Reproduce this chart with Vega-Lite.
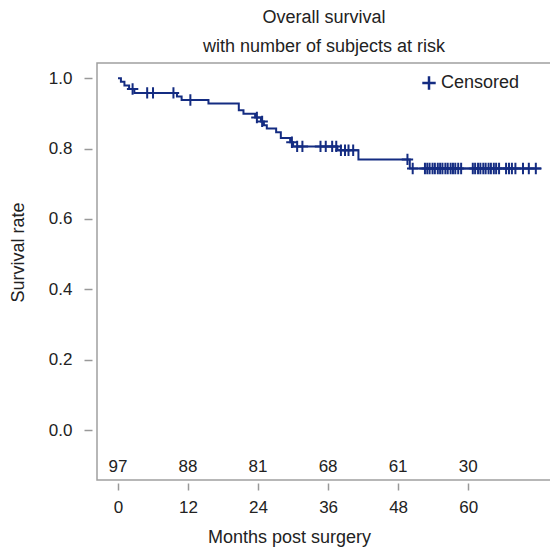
{
  "$schema": "https://vega.github.io/schema/vega-lite/v6.json",
  "autosize": {"type": "none"},
  "width": 454,
  "height": 417,
  "padding": {"left": 97, "top": 63, "right": 0, "bottom": 68},
  "background": "white",
  "title": {
    "text": ["Overall survival", "with number of subjects at risk"],
    "fontSize": 18,
    "fontWeight": "normal",
    "font": "Liberation Sans",
    "color": "#222",
    "lineHeight": 29,
    "anchor": "middle",
    "offset": 7
  },
  "config": {
    "font": "Liberation Sans",
    "view": {"stroke": "#a0a0a0", "strokeWidth": 1.5},
    "axis": {"grid": false, "domain": false, "tickColor": "#999", "tickWidth": 1.5, "labelColor": "#222", "titleColor": "#222", "labelFontSize": 17, "titleFontSize": 18, "titleFontWeight": "normal"}
  },
  "datasets": {
    "curve": [
      {"t": 0, "s": 1.0},
      {"t": 0.5, "s": 0.99},
      {"t": 1.1, "s": 0.979},
      {"t": 1.9, "s": 0.969},
      {"t": 2.8, "s": 0.958},
      {"t": 10.1, "s": 0.948},
      {"t": 10.9, "s": 0.938},
      {"t": 15.5, "s": 0.928},
      {"t": 20.7, "s": 0.909},
      {"t": 21.5, "s": 0.899},
      {"t": 23.5, "s": 0.888},
      {"t": 24.5, "s": 0.877},
      {"t": 25.0, "s": 0.866},
      {"t": 25.5, "s": 0.857},
      {"t": 27.1, "s": 0.846},
      {"t": 27.9, "s": 0.83},
      {"t": 29.5, "s": 0.818},
      {"t": 30.0, "s": 0.806},
      {"t": 37.6, "s": 0.795},
      {"t": 41.2, "s": 0.769},
      {"t": 50.0, "s": 0.743},
      {"t": 72.5, "s": 0.743}
    ],
    "censor": [
      {"t": 2.5, "s": 0.969, "type": "Censored"},
      {"t": 5.0, "s": 0.958, "type": "Censored"},
      {"t": 6.0, "s": 0.958, "type": "Censored"},
      {"t": 9.5, "s": 0.958, "type": "Censored"},
      {"t": 12.4, "s": 0.938, "type": "Censored"},
      {"t": 23.8, "s": 0.888, "type": "Censored"},
      {"t": 24.7, "s": 0.877, "type": "Censored"},
      {"t": 29.8, "s": 0.818, "type": "Censored"},
      {"t": 30.7, "s": 0.806, "type": "Censored"},
      {"t": 31.6, "s": 0.806, "type": "Censored"},
      {"t": 34.7, "s": 0.806, "type": "Censored"},
      {"t": 35.6, "s": 0.806, "type": "Censored"},
      {"t": 36.7, "s": 0.806, "type": "Censored"},
      {"t": 37.4, "s": 0.806, "type": "Censored"},
      {"t": 38.2, "s": 0.795, "type": "Censored"},
      {"t": 38.9, "s": 0.795, "type": "Censored"},
      {"t": 39.5, "s": 0.795, "type": "Censored"},
      {"t": 40.3, "s": 0.795, "type": "Censored"},
      {"t": 49.6, "s": 0.769, "type": "Censored"},
      {"t": 50.5, "s": 0.743, "type": "Censored"},
      {"t": 52.6, "s": 0.743, "type": "Censored"},
      {"t": 53.0, "s": 0.743, "type": "Censored"},
      {"t": 53.4, "s": 0.743, "type": "Censored"},
      {"t": 53.9, "s": 0.743, "type": "Censored"},
      {"t": 54.3, "s": 0.743, "type": "Censored"},
      {"t": 54.8, "s": 0.743, "type": "Censored"},
      {"t": 55.2, "s": 0.743, "type": "Censored"},
      {"t": 55.6, "s": 0.743, "type": "Censored"},
      {"t": 56.1, "s": 0.743, "type": "Censored"},
      {"t": 56.5, "s": 0.743, "type": "Censored"},
      {"t": 57.0, "s": 0.743, "type": "Censored"},
      {"t": 57.4, "s": 0.743, "type": "Censored"},
      {"t": 57.8, "s": 0.743, "type": "Censored"},
      {"t": 58.3, "s": 0.743, "type": "Censored"},
      {"t": 58.8, "s": 0.743, "type": "Censored"},
      {"t": 60.8, "s": 0.743, "type": "Censored"},
      {"t": 61.2, "s": 0.743, "type": "Censored"},
      {"t": 61.7, "s": 0.743, "type": "Censored"},
      {"t": 62.1, "s": 0.743, "type": "Censored"},
      {"t": 62.6, "s": 0.743, "type": "Censored"},
      {"t": 63.0, "s": 0.743, "type": "Censored"},
      {"t": 63.5, "s": 0.743, "type": "Censored"},
      {"t": 63.9, "s": 0.743, "type": "Censored"},
      {"t": 64.4, "s": 0.743, "type": "Censored"},
      {"t": 64.8, "s": 0.743, "type": "Censored"},
      {"t": 65.3, "s": 0.743, "type": "Censored"},
      {"t": 66.5, "s": 0.743, "type": "Censored"},
      {"t": 67.0, "s": 0.743, "type": "Censored"},
      {"t": 67.5, "s": 0.743, "type": "Censored"},
      {"t": 68.1, "s": 0.743, "type": "Censored"},
      {"t": 69.4, "s": 0.743, "type": "Censored"},
      {"t": 70.4, "s": 0.743, "type": "Censored"},
      {"t": 71.6, "s": 0.743, "type": "Censored"}
    ],
    "risk": [
      {"t": 0, "n": "97"},
      {"t": 12, "n": "88"},
      {"t": 24, "n": "81"},
      {"t": 36, "n": "68"},
      {"t": 48, "n": "61"},
      {"t": 60, "n": "30"}
    ]
  },
  "layer": [
    {
      "data": {"name": "curve"},
      "mark": {"type": "line", "interpolate": "step-after", "color": "#142c82", "strokeWidth": 2},
      "encoding": {
        "x": {
          "field": "t", "type": "quantitative",
          "scale": {"domain": [-3.6, 74.2], "nice": false, "zero": false},
          "axis": {
            "title": "Months post surgery", "values": [0, 12, 24, 36, 48, 60],
            "offset": 3, "tickSize": 7, "labelPadding": 9,
            "titlePadding": 13, "titleX": 192, "titleAlign": "center"
          }
        },
        "y": {
          "field": "s", "type": "quantitative",
          "scale": {"domain": [-0.142, 1.043], "nice": false, "zero": false},
          "axis": {
            "title": "Survival rate", "values": [0, 0.2, 0.4, 0.6, 0.8, 1.0], "format": ".1f",
            "offset": 5, "tickSize": 8, "labelPadding": 12,
            "titleX": -74, "titleY": 189, "titleAlign": "center", "titleBaseline": "middle"
          }
        }
      }
    },
    {
      "data": {"name": "censor"},
      "mark": {"type": "point", "filled": false, "strokeWidth": 2, "color": "#142c82", "size": 130, "opacity": 1},
      "encoding": {
        "x": {"field": "t", "type": "quantitative"},
        "y": {"field": "s", "type": "quantitative"},
        "shape": {
          "field": "type", "type": "nominal",
          "scale": {"range": ["M0,-1V1M-1,0H1"]},
          "legend": {
            "title": null, "orient": "none", "legendX": 323, "legendY": 11,
            "symbolSize": 180, "symbolStrokeWidth": 2.5, "symbolStrokeColor": "#142c82",
            "labelFontSize": 18, "labelColor": "#222", "labelOffset": 3, "padding": 0
          }
        }
      }
    },
    {
      "data": {"name": "risk"},
      "mark": {"type": "text", "fontSize": 17, "color": "#222", "baseline": "middle", "align": "center"},
      "encoding": {
        "x": {"field": "t", "type": "quantitative"},
        "y": {"datum": -0.105},
        "text": {"field": "n", "type": "nominal"}
      }
    }
  ]
}
